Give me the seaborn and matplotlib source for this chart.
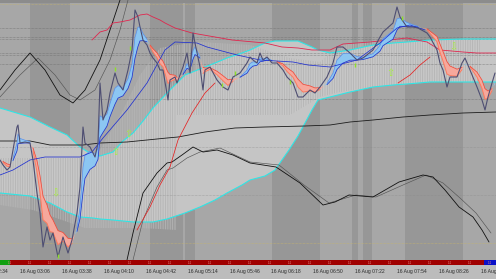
import numpy as np
import pandas as pd
import matplotlib
matplotlib.use("Agg")
import matplotlib.pyplot as plt
import seaborn as sns

# ---------------- data (x = bar position, y = chart level, measured from top) ----------------
price_x = [0, 3, 7, 10, 13, 17, 18, 20, 25, 30, 33, 37, 40, 43, 47, 50, 53, 58, 63, 68, 72, 77, 80, 83, 85,
           90, 95, 98, 100, 103, 107, 110, 115, 118, 123, 128, 132, 135, 138, 140, 143, 147, 150, 153, 157,
           160, 163, 168, 170, 175, 177, 183, 187, 190, 193, 195, 200, 203, 205, 210, 217, 223, 228, 233,
           240, 247, 250, 253, 257, 260, 263, 267, 272, 277, 283, 287, 293, 298, 303, 310, 315, 320, 327,
           333, 337, 343, 350, 357, 363, 373, 380, 383, 393, 397, 400, 407, 413, 418, 427, 430, 437, 440,
           443, 447, 450, 457, 462, 465, 470, 477, 482, 485, 488, 492, 495]
price_y = [160, 165, 170, 167, 150, 127, 125, 143, 142, 143, 160, 193, 213, 247, 227, 240, 233, 257, 237, 253,
           240, 213, 187, 127, 143, 147, 157, 143, 83, 120, 110, 93, 73, 83, 90, 70, 50, 10, 17, 27, 40, 45,
           53, 58, 63, 70, 70, 100, 80, 77, 83, 67, 53, 73, 33, 43, 67, 90, 70, 67, 80, 87, 90, 77, 73, 63,
           57, 60, 63, 53, 60, 57, 63, 63, 70, 77, 83, 97, 97, 90, 93, 87, 77, 63, 47, 47, 53, 60, 58, 50,
           37, 32, 23, 7, 17, 27, 27, 28, 33, 37, 50, 63, 70, 87, 77, 77, 63, 58, 70, 87, 100, 110, 97, 83, 73]

cloud_x = [0, 30, 50, 67, 80, 93, 100, 113, 123, 133, 143, 153, 167, 185, 200, 215, 227, 242, 250, 265, 275,
           289, 298, 305, 312, 318, 330, 350, 373, 393, 407, 430, 463, 487, 496]
cyan_upper = [108, 117, 127, 135, 147, 155, 156, 152, 141, 133, 121, 108, 93, 75, 69, 63, 58, 53, 50, 43, 41,
              41, 41, 44, 47, 50, 53, 50, 45, 43, 42, 40, 39, 39, 39]
cyan_lower = [193, 196, 203, 212, 217, 218, 219, 220, 221, 222, 222, 222, 219, 213, 207, 200, 193, 185, 180,
              176, 170, 150, 136, 123, 110, 100, 97, 92, 87, 85, 84, 82, 82, 82, 82]

hist_x = [0, 33, 85, 100, 123, 140, 160, 176, 177, 200, 250, 290, 320, 340, 380, 440, 480]
hist_top = [158, 158, 158, 150, 110, 75, 48, 45, 45, 42, 45, 58, 62, 45, 40, 40, 40]
hist_bot = [205, 210, 228, 228, 228, 228, 229, 230, 115, 115, 115, 115, 97, 92, 86, 82, 82]

crimson_x = [92, 100, 107, 113, 120, 130, 140, 147, 153, 160, 165, 175, 192, 215, 232, 265, 282, 298, 312,
             330, 343, 370, 407, 427, 440, 463, 477, 496]
crimson_y = [40, 32, 30, 23, 22, 20, 15, 14, 17, 20, 23, 28, 33, 37, 40, 43, 47, 48, 50, 50, 44, 42, 38, 42,
             50, 52, 53, 53]

sar1_x = [137, 150, 160, 170, 178, 192, 205, 215]
sar1_y = [230, 207, 185, 167, 140, 113, 93, 83]
sar2_x = [398, 410, 420, 430]
sar2_y = [83, 75, 65, 57]

slow_blue_x = [0, 13, 30, 45, 60, 80, 92, 103, 127, 147, 165, 175, 197, 207, 237, 260, 293, 308, 330, 357,
               380, 397, 410, 425]
slow_blue_y = [175, 170, 160, 157, 157, 157, 152, 138, 110, 83, 50, 42, 43, 47, 55, 60, 62, 65, 67, 60, 43,
               28, 25, 30]

base_x = [0, 30, 50, 83, 100, 127, 147, 167, 178, 205, 235, 265, 305, 330, 350, 373, 403, 430, 463, 496]
base_y = [141, 141, 145, 145, 143, 142, 140, 138, 137, 132, 128, 127, 126, 125, 122, 120, 117, 115, 113, 112]

osc_a1_x = [0, 15, 30, 45, 60, 73, 85, 100, 110, 120, 126]
osc_a1_y = [90, 70, 53, 70, 95, 103, 90, 60, 30, 0, -20]
osc_a2_x = [125, 127, 133, 143, 157, 167, 172, 182, 193, 203, 217, 233, 250, 276, 300, 323, 335, 349, 373,
            399, 423, 433, 445, 459, 473, 482, 489]
osc_a2_y = [280, 260, 233, 193, 173, 163, 162, 155, 147, 152, 150, 155, 163, 167, 183, 205, 202, 195, 197,
            182, 175, 177, 190, 207, 217, 230, 242]
osc_b1_x = [0, 20, 38, 55, 70, 80, 95, 110, 120, 128, 133]
osc_b1_y = [97, 75, 58, 75, 95, 100, 90, 60, 30, 0, -20]
osc_b2_x = [131, 133, 143, 157, 167, 173, 187, 200, 220, 250, 279, 304, 329, 356, 376, 403, 426, 443, 460,
            476, 491]
osc_b2_y = [280, 260, 220, 187, 170, 168, 158, 152, 148, 162, 165, 185, 203, 195, 197, 185, 175, 183, 198,
            213, 233]

dark_bands = [(30, 70), (150, 183), (185, 195), (272, 320), (352, 358), (363, 372), (405, 463)]
dotted_levels = [28, 37, 39, 53, 55, 64, 99]
faint_levels = [147, 195]
yellow_levels = [4, 243]

up_arrow_x = [115, 128, 390]
up_arrow_y = [152, 134, 73]
down_arrow_x = [55, 453]
down_arrow_y = [193, 47]
signal_x = [115, 130, 58, 235, 222, 290, 402, 355]
signal_y = [69, 48, 256, 73, 85, 82, 18, 65]

tick_pos = [-7, 35, 77, 119, 161, 203, 245, 286, 328, 370, 412, 454, 496]
tick_labels = ["16 Aug 02:34", "16 Aug 03:06", "16 Aug 03:38", "16 Aug 04:10", "16 Aug 04:42",
               "16 Aug 05:14", "16 Aug 05:46", "16 Aug 06:18", "16 Aug 06:50", "16 Aug 07:22",
               "16 Aug 07:54", "16 Aug 08:26", "16 Aug 08:58"]

# ---------------- figure ----------------
sns.set_style("white")
plt.rcParams["font.family"] = ["Liberation Sans", "DejaVu Sans"]
plt.rcParams["hatch.linewidth"] = 0.6

W, H = 496, 279
fig = plt.figure(figsize=(W / 100, H / 100), dpi=100, facecolor="#bcbcbc")
ax = fig.add_axes([0, 19 / H, 1, 260 / H])
ax.set_facecolor("#a7a7a7")
for s in ax.spines.values():
    s.set_visible(False)


def line(xs, ys, color, lw, z, alpha=1.0):
    d = pd.DataFrame({"x": xs, "y": ys})
    sns.lineplot(data=d, x="x", y="y", ax=ax, color=color, linewidth=lw, sort=False,
                 estimator=None, zorder=z, alpha=alpha, legend=False)


for a, b in dark_bands:
    ax.axvspan(a, b, color="#979797", lw=0, zorder=0)
ax.axhspan(0, 2.5, color="#8c8c8c", lw=0, zorder=0.5)

# cloud between the two cyan bands
ax.fill_between(cloud_x, cyan_upper, cyan_lower, color="#c5c5c5", lw=0, zorder=1)
# histogram stripes
ax.fill_between(hist_x, hist_top, hist_bot, facecolor=(1, 1, 1, 0.05), edgecolor="#b4b4b4",
                hatch="|||||||", lw=0, zorder=1.2)

for lv in dotted_levels:
    ax.axhline(lv, color="#6c6c6c", lw=0.45, ls=(0, (1, 1.2)), zorder=1.5)
for lv in faint_levels:
    ax.axhline(lv, color="#8a8a8a", lw=0.4, ls=(0, (1, 1.5)), zorder=1.5)
for lv in yellow_levels:
    ax.axhline(lv, color="#c8b46a", lw=0.45, ls=(0, (1, 1.2)), zorder=1.5)

line(cloud_x, cyan_upper, "#2ee6e6", 0.8, 3)
line(cloud_x, cyan_lower, "#2ee6e6", 0.8, 3)
line(base_x, base_y, "#1c1c1c", 0.6, 3)

line(osc_b1_x, osc_b1_y, "#555555", 0.45, 3)
line(osc_b2_x, osc_b2_y, "#555555", 0.45, 3)
line(osc_a1_x, osc_a1_y, "#111111", 0.6, 3.1)
line(osc_a2_x, osc_a2_y, "#111111", 0.6, 3.1)

line(crimson_x, crimson_y, "#e0264e", 0.6, 3.2)
line(sar1_x, sar1_y, "#e52222", 0.55, 3.2)
line(sar2_x, sar2_y, "#e52222", 0.55, 3.2)

# moving-average ribbons derived from the price series
ps = pd.Series(price_y, dtype=float)
fast = ps.ewm(span=3, adjust=False).mean().to_numpy()
slow = ps.ewm(span=6, adjust=False).mean().to_numpy()
px = np.array(price_x, dtype=float)
rising = fast <= slow
ax.fill_between(px, fast, slow, where=rising, interpolate=True, color="#8cc6f2", lw=0, zorder=4)
ax.fill_between(px, fast, slow, where=~rising, interpolate=True, color="#f6a89c", lw=0, zorder=4)
ax.plot(px, np.where(rising, fast, np.nan), color="#5b8fea", lw=0.5, zorder=4.2)
ax.plot(px, np.where(~rising, fast, np.nan), color="#ff7a5e", lw=0.7, zorder=4.2)
ax.plot(px, np.where(rising, slow, np.nan), color="#2035cc", lw=0.55, zorder=4.3)
ax.plot(px, np.where(~rising, slow, np.nan), color="#f04a3a", lw=0.55, zorder=4.3)

line(slow_blue_x, slow_blue_y, "#2030d0", 0.55, 4.4)
line(price_x, price_y, "#4e4e72", 0.8, 5)

for x, y in zip(up_arrow_x, up_arrow_y):
    ax.text(x, y, "\u21e7", color="#a6f03c", fontsize=7, ha="center", va="center",
            family="DejaVu Sans", zorder=6)
for x, y in zip(down_arrow_x, down_arrow_y):
    ax.text(x, y, "\u21e9", color="#a6f03c", fontsize=7, ha="center", va="center",
            family="DejaVu Sans", zorder=6)
ax.scatter(signal_x, signal_y, marker="|", s=10, color="#8ee02a", linewidths=1.0, zorder=6)

ax.set_xlim(0, 496)
ax.set_ylim(260, 0)
ax.set_xticks([])
ax.set_yticks([])
ax.set_xlabel("")
ax.set_ylabel("")

# bottom bar
ax2 = fig.add_axes([0, 14 / H, 1, 5 / H])
ax2.set_xlim(0, 496)
ax2.set_ylim(0, 1)
ax2.axis("off")
ax2.axvspan(0, 496, color="#a00000", lw=0)
ax2.axvspan(0, 10, color="#10a010", lw=0)
ax2.axvspan(484, 496, color="#0a10c8", lw=0)
for k in range(25):
    ax2.text(10 + 20 * k, 0.5, "1:1", color="#e88888", fontsize=2.2, ha="center", va="center")

for p, lab in zip(tick_pos, tick_labels):
    fig.text(p / W, 1 - 271 / H, lab, color="#2a2a2a", fontsize=3.6, ha="center", va="center")

fig.savefig("out.png", dpi=100, facecolor=fig.get_facecolor())
